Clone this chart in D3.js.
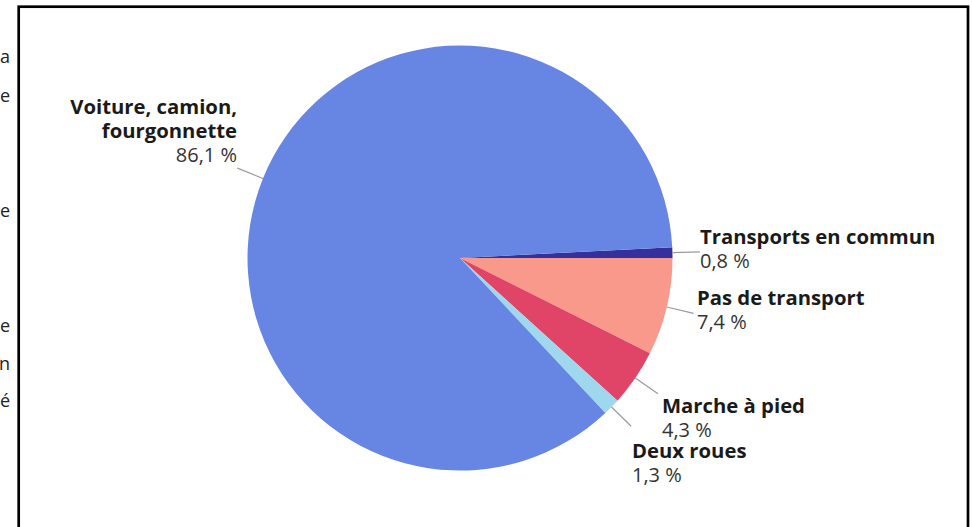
<!DOCTYPE html>
<html>
<head>
<meta charset="utf-8">
<script src="https://cdn.jsdelivr.net/npm/d3@7"></script>
<style>
  html, body { margin: 0; padding: 0; background: #fff; }
  svg { display: block; }
</style>
</head>
<body>
<svg id="chart" width="972" height="527"></svg>
<script>
// ---- data ----
const categories = ["Transports en commun", "Pas de transport", "Marche à pied", "Deux roues", "Voiture, camion, fourgonnette"];
const labelLines = [["Transports en commun"], ["Pas de transport"], ["Marche à pied"], ["Deux roues"], ["Voiture, camion,", "fourgonnette"]];
const values = [0.8, 7.4, 4.3, 1.3, 86.1];
const valueLabels = ["0,8 %", "7,4 %", "4,3 %", "1,3 %", "86,1 %"];
const colors = ["#35309b", "#f9998c", "#e04466", "#9fd7ee", "#6786e3"];
// cropped text from the neighbouring column (left edge)
const sideFragments = ["a", "e", "e", "e", "n", "é"];

// ---- layout ----
const W = 972, H = 527;
const cx = 460, cy = 258, R = 212.5, leaderR = 240;
// label anchor positions (x, first baseline, anchor)
const labelPos = [
  {x: 700, y: 243.5, anchor: "start"},
  {x: 697, y: 305, anchor: "start"},
  {x: 662, y: 413, anchor: "start"},
  {x: 632, y: 458, anchor: "start"},
  {x: 237, y: 113.5, anchor: "end"}
];
const fragY = [63, 102, 217, 332, 370, 407];

const svg = d3.select("#chart");
svg.append("rect").attr("width", W).attr("height", H).attr("fill", "#fff");

// side fragments
svg.append("g").selectAll("text").data(sideFragments).join("text")
  .attr("x", 10).attr("y", (d, i) => fragY[i])
  .attr("text-anchor", "end")
  .attr("font-family", "'Open Sans', sans-serif")
  .attr("font-size", 18).attr("fill", "#222")
  .text(d => d);

// frame
svg.append("rect")
  .attr("x", 18.7).attr("y", 6.7).attr("width", 949.3).attr("height", 560)
  .attr("fill", "none").attr("stroke", "#000").attr("stroke-width", 2.7);

const total = d3.sum(values);
const start = Math.PI / 2 - (values[0] / total) * 2 * Math.PI;
const pie = d3.pie().sort(null).value(d => d)
  .startAngle(start).endAngle(start + 2 * Math.PI);
const arcs = pie(values);
const arc = d3.arc().innerRadius(0).outerRadius(R);

const g = svg.append("g").attr("transform", `translate(${cx},${cy})`);
g.selectAll("path").data(arcs).join("path")
  .attr("d", arc)
  .attr("fill", (d, i) => colors[i]);

// leader lines
const mid = d => (d.startAngle + d.endAngle) / 2;
g.selectAll("line").data(arcs).join("line")
  .attr("x1", d => R * Math.sin(mid(d)))
  .attr("y1", d => -R * Math.cos(mid(d)))
  .attr("x2", d => leaderR * Math.sin(mid(d)))
  .attr("y2", d => -leaderR * Math.cos(mid(d)))
  .attr("stroke", "#9a9a9a").attr("stroke-width", 1.2);

// labels
const lh = 24;
arcs.forEach((d, i) => {
  const p = labelPos[i];
  const t = svg.append("text")
    .attr("text-anchor", p.anchor)
    .attr("font-family", "'Open Sans', sans-serif");
  labelLines[i].forEach((ln, j) => {
    t.append("tspan").attr("x", p.x).attr("y", p.y + j * lh)
      .attr("font-weight", 700).attr("font-size", 20.3).attr("fill", "#1a1a1a")
      .text(ln);
  });
  t.append("tspan").attr("x", p.x).attr("y", p.y + labelLines[i].length * lh)
    .attr("font-weight", 400).attr("font-size", 20).attr("fill", "#333")
    .text(valueLabels[i]);
});
</script>
</body>
</html>
